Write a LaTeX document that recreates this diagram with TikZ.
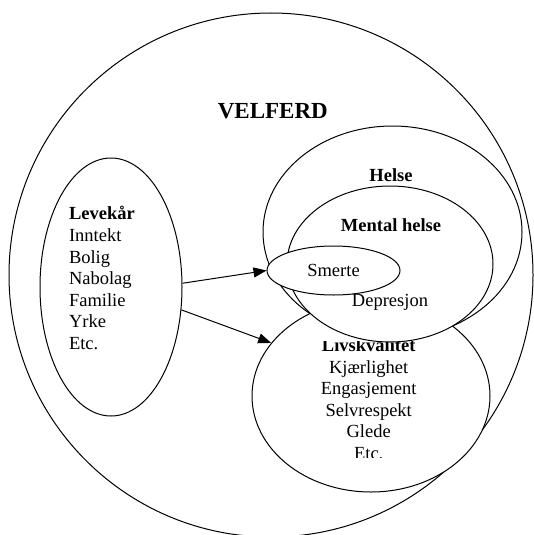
\documentclass[tikz,border=0pt]{standalone}
\usepackage{fontspec}
\setmainfont{Liberation Serif}
\usetikzlibrary{shapes.geometric, arrows.meta}

\begin{document}
\begin{tikzpicture}[x=1pt, y=-1pt, line width=1pt,
  oval/.style={ellipse, draw, fill=white, inner sep=0pt},
  lbl/.style={inner sep=0pt, font=\fontsize{18.5}{21.6}\selectfont},
  pil/.style={-{Triangle[length=13pt, width=10pt]}}]
\useasboundingbox (0,0) rectangle (534,535);

% Velferd
\draw (271,275) circle (262pt);
\node[lbl, font=\fontsize{23}{27}\selectfont\bfseries, anchor=base] (velferd) at (272.8,118) {VELFERD};

% Levekaar (base = siste linje)
\node[oval, minimum width=142pt, minimum height=258pt] (levekar) at (111,287) {};
\node[lbl, align=left, anchor=base west] (levtxt) at (68.5,349.5)
  {\textbf{Levekår}\\Inntekt\\Bolig\\Nabolag\\Familie\\Yrke\\Etc.};

% Helse
\node[oval, minimum width=259pt, minimum height=212pt] (helse) at (392.5,232) {};
\node[lbl, anchor=base] (helsetxt) at (391,181) {\textbf{Helse}};

% Livskvalitet (tekstboksen er klippet)
\node[oval, minimum width=238pt, minimum height=192pt] (livs) at (371,396) {};
\begin{scope}
\clip (250,341) rectangle (490,457);
\node[lbl, align=center, anchor=base] (livstxt) at (368.7,459.5)
  {\textbf{Livskvalitet}\\Kjærlighet\\Engasjement\\Selvrespekt\\Glede\\Etc.};
\end{scope}

% Mental helse
\node[oval, minimum width=206pt, minimum height=156pt] (mental) at (390,264) {};
\node[lbl, anchor=base] (mentaltxt) at (391,231.7) {\textbf{Mental helse}};
\node[lbl, anchor=base] (depresjon) at (390,306.5) {Depresjon};

% Smerte
\node[oval, lbl, minimum width=133pt, minimum height=49pt] (smerte) at (333.5,270.5) {Smerte};

% Piler
\draw[pil] (levekar.3) -- (smerte.west);
\draw[pil] (levekar.-18) -- (livs.152);
\end{tikzpicture}
\end{document}
